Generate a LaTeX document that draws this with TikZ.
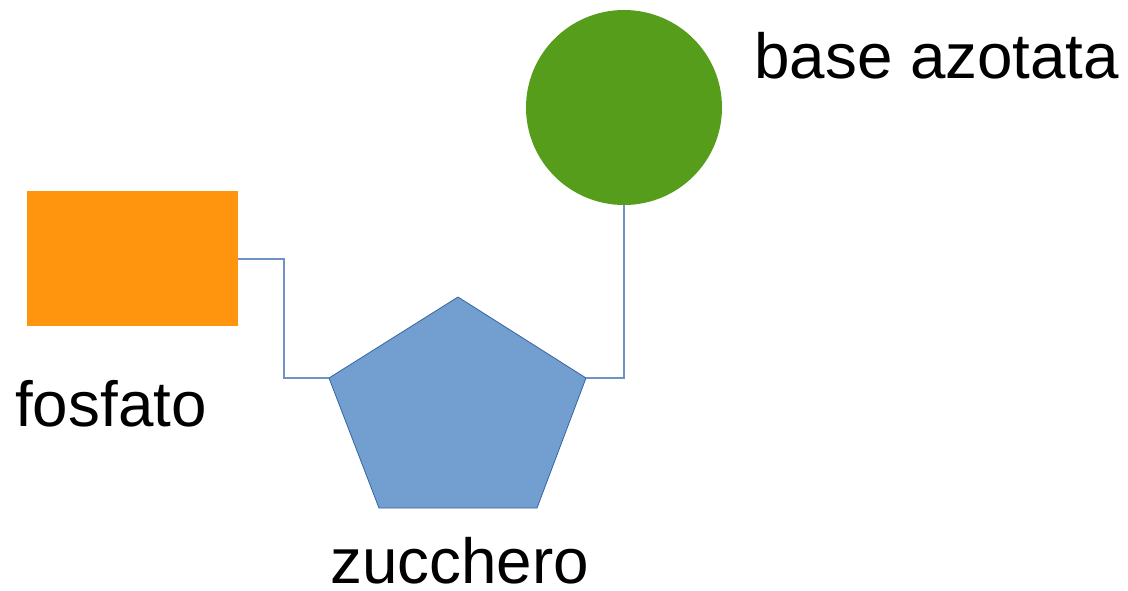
\documentclass[tikz,border=0pt]{standalone}
\usepackage{fontspec}
\setmainfont{Liberation Sans}
\definecolor{orangeF}{HTML}{FF950E}
\definecolor{greenB}{HTML}{579D1C}
\definecolor{blueZ}{HTML}{729FCF}
\definecolor{blueD}{HTML}{3465A4}
\definecolor{lineC}{HTML}{6F93C6}
\tikzset{
  lbl/.style={font=\fontsize{47.8pt}{56pt}\selectfont, inner sep=0pt, anchor=base west},
  conn/.style={draw=lineC, line width=0.9pt},
}
\begin{document}
\begin{tikzpicture}[x=0.75pt,y=-0.75pt]
\useasboundingbox (0,0) rectangle (1128,590);
% fosfato box
\fill[orangeF] (27,191) rectangle (238,326);
\coordinate (fos) at (238,259);
% base circle
\fill[greenB] (624,107.5) ellipse (98 and 97.5);
\coordinate (baseb) at (624,205);
% sugar pentagon
\filldraw[fill=blueZ, draw=blueD, line width=0.6pt] (458,297) -- (586,378) -- (537,508) -- (379,508) -- (329,378) -- cycle;
\coordinate (pL) at (329,378);
\coordinate (pR) at (586,378);
% connectors
\draw[conn] (fos) -| (284,378) -- (pL);
\draw[conn] (pR) -| (baseb);
% labels
\node[lbl] (tb) at (754,78) {base azotata};
\node[lbl] (tf) at (15,426) {fosfato};
\node[lbl] (tz) at (330,583) {zucchero};
\end{tikzpicture}
\end{document}
